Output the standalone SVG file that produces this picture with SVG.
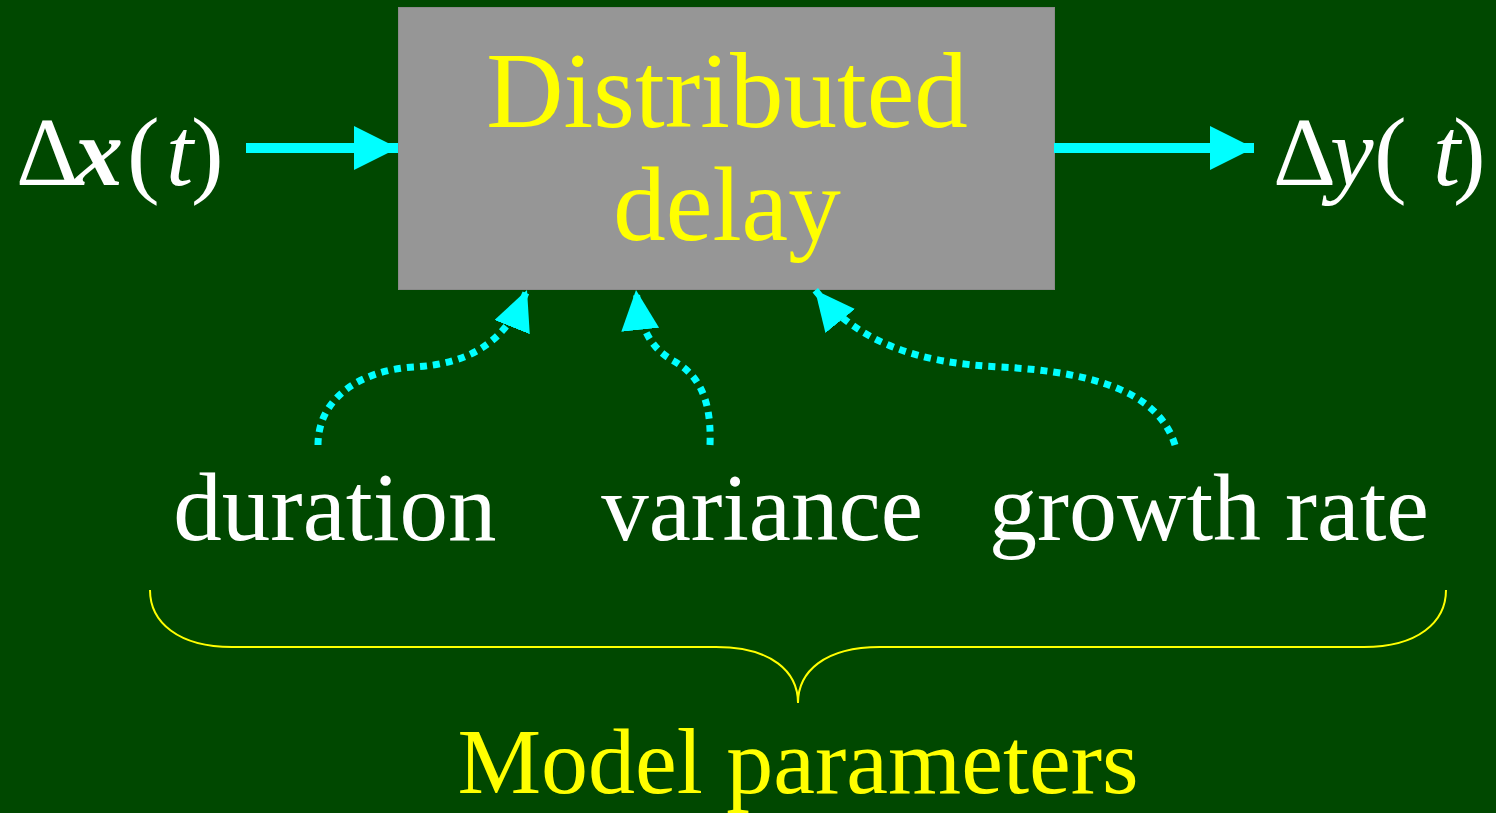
<svg xmlns="http://www.w3.org/2000/svg" width="1496" height="813" viewBox="0 0 1496 813">
<style>
.t{font-family:"Liberation Serif","Times New Roman",serif;}
.w{fill:#ffffff;}
.y{fill:#ffff00;}
.dot{fill:none;stroke:#00ffff;stroke-width:7;stroke-dasharray:7 6;}
.solid{fill:none;stroke:#00ffff;stroke-width:10;}
</style>
<defs>
<marker id="ah" markerUnits="userSpaceOnUse" markerWidth="50" markerHeight="50" refX="44" refY="22" orient="auto"><path d="M0,0 L44,22 L0,44 Z" fill="#00ffff"/></marker>
<marker id="ad" markerUnits="userSpaceOnUse" markerWidth="46" markerHeight="42" refX="40" refY="19" orient="auto"><path d="M0,0 L40,19 L0,38 Z" fill="#00ffff"/></marker>
</defs>
<rect width="1496" height="813" fill="#004800"/>
<g id="box">
<rect x="398.5" y="7.5" width="656" height="282" fill="#969696" stroke="#8a8a8a" stroke-width="1"/>
<text class="t y" x="727" y="127" font-size="107" text-anchor="middle">Distributed</text>
<text class="t y" x="727" y="240" font-size="105" text-anchor="middle">delay</text>
</g>
<g id="input">
<text class="t w" y="185" font-size="98"><tspan x="16">Δ</tspan><tspan x="74" font-style="italic" font-weight="bold">x</tspan><tspan x="127">(</tspan><tspan x="166" font-style="italic">t</tspan><tspan x="191">)</tspan></text>
</g>
<g id="output">
<text class="t w" y="185" font-size="98"><tspan x="1273">Δ</tspan><tspan x="1330" font-style="italic">y</tspan><tspan x="1374">(</tspan><tspan x="1433" font-style="italic">t</tspan><tspan x="1453">)</tspan></text>
</g>
<g id="duration"><text class="t w" x="335" y="540" font-size="97" text-anchor="middle">duration</text></g>
<g id="variance"><text class="t w" x="762" y="540" font-size="95" text-anchor="middle">variance</text></g>
<g id="growth"><text class="t w" x="1209" y="540" font-size="96" text-anchor="middle">growth rate</text></g>
<g id="params">
<path d="M150,590 C150,622 178,647 232,647 L716,647 C772,647 798,672 798,703 C798,672 824,647 880,647 L1364,647 C1418,647 1446,622 1446,590" fill="none" stroke="#ffff00" stroke-width="2"/>
<text class="t y" x="798" y="793" font-size="94" text-anchor="middle">Model parameters</text>
</g>
<g id="connectors">
<path class="solid" d="M246,148 L398,148" marker-end="url(#ah)"/>
<path class="solid" d="M1054,148 L1254,148" marker-end="url(#ah)"/>
<path class="dot" d="M318,445 C318,397 362,370 414,367 C466,364 505,345 527,290" marker-end="url(#ad)"/>
<path class="dot" d="M710,445 C712,392 694,372 672,360 C650,347 640,328 636,290" marker-end="url(#ad)"/>
<path class="dot" d="M1175,445 C1160,396 1102,372 1000,367 C918,363 858,343 815,290" marker-end="url(#ad)"/>
</g>
</svg>
